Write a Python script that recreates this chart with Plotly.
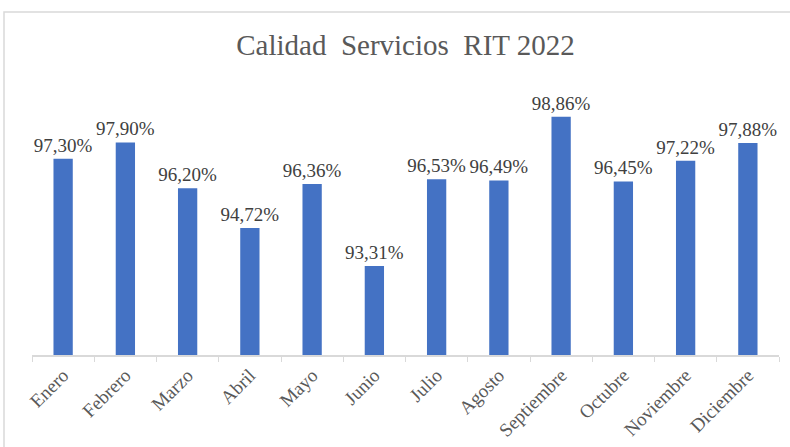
import plotly.graph_objects as go

months = ["Enero", "Febrero", "Marzo", "Abril", "Mayo", "Junio", "Julio",
          "Agosto", "Septiembre", "Octubre", "Noviembre", "Diciembre"]
calidad = [97.30, 97.90, 96.20, 94.72, 96.36, 93.31, 96.53,
           96.49, 98.86, 96.45, 97.22, 97.88]
title_text = "Calidad  Servicios  RIT 2022"

SERIF = "Liberation Serif, Times New Roman, serif"
W, H = 790, 447
L, R, T, B = 32, 11, 86, 92
pw, ph = W - L - R, H - T - B

fig = go.Figure(go.Bar(
    x=months, y=calidad,
    marker=dict(color="#4472C4", line=dict(width=0)),
    width=0.31,
    texttemplate="%{y:.2f}%",
    textposition="outside",
    constraintext="none",
    textfont=dict(family=SERIF, size=19, color="#404040"),
    cliponaxis=False,
))

# outer chart border (light gray)
fig.add_shape(type="rect", xref="paper", yref="paper",
              x0=(4 - L) / pw, x1=(W + 5 - L) / pw,
              y0=-(H + 5 - (H - B)) / ph, y1=((H - B) - 12) / ph,
              line=dict(color="#d9d9d9", width=1.5), fillcolor="rgba(0,0,0,0)", layer="below")

fig.update_layout(
    width=W, height=H,
    margin=dict(l=L, r=R, t=T, b=B, pad=0, autoexpand=False),
    paper_bgcolor="white", plot_bgcolor="white",
    separators=", ",
    showlegend=False,
    title=dict(text=title_text, x=0.5, xref="paper", xanchor="center",
               y=(H - 45) / H, yanchor="middle",
               font=dict(family=SERIF, size=29, color="#595959")),
    xaxis=dict(
        tickangle=-45,
        automargin=False,
        tickfont=dict(family=SERIF, size=19, color="#595959"),
        showline=True, linecolor="#d9d9d9", linewidth=1.5,
        ticks="outside", tickson="boundaries", ticklen=5, tickcolor="#d9d9d9",
        showgrid=False,
    ),
    yaxis=dict(range=[90, 100], visible=False, showgrid=False, automargin=False),
)

fig.write_html("out.html",
               config={"displayModeBar": False},
               post_script="document.body.style.margin='0px';document.body.style.overflow='hidden';")
